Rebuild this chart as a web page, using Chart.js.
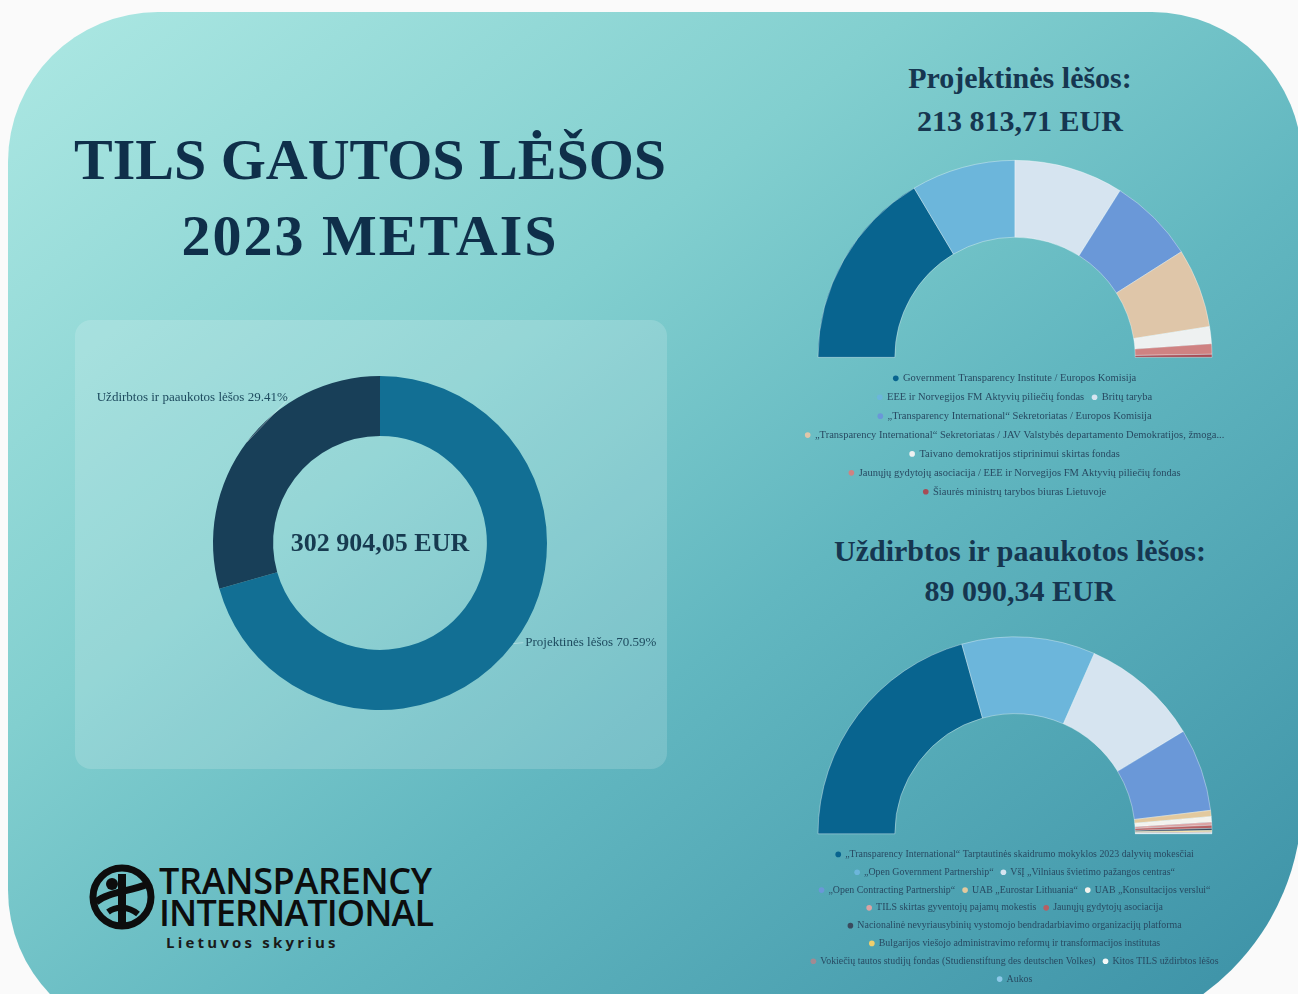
<!DOCTYPE html>
<html lang="lt">
<head>
<meta charset="utf-8">
<title>TILS gautos lėšos 2023 metais</title>
<script src="https://cdn.jsdelivr.net/npm/chart.js@4.4.1/dist/chart.umd.min.js"></script>
<style>
  html, body { margin: 0; padding: 0; }
  body { width: 1298px; height: 994px; overflow: hidden; background: #fafafa; position: relative; font-family: "Liberation Serif", serif; }
  .card {
    position: absolute; left: 8px; top: 12px; width: 1294px; height: 1028px;
    border-radius: 150px 150px 240px 150px;
    background: linear-gradient(to bottom right, #ade8e3 0%, #82cfcf 35%, #62b7c0 58%, #3a8fa5 100%);
  }
  .panel {
    position: absolute; left: 75px; top: 320px; width: 592px; height: 449px;
    border-radius: 16px; background: rgba(255, 255, 255, 0.16);
  }
  .title {
    position: absolute; left: 20px; top: 122px; width: 700px; text-align: center;
    font: bold 58px/76px "Liberation Serif", serif; color: #0f2f4a;
  }
  .head {
    position: absolute; left: 820px; width: 400px; text-align: center;
    font: bold 30px/43px "Liberation Serif", serif; color: #163650;
  }
  .box { position: absolute; }
  .logo { position: absolute; left: 88px; top: 862px; }
  .logo-text {
    position: absolute; left: 159px; top: 865px;
    font: 600 36px/32px "Open Sans", sans-serif; color: #0d0d0d; letter-spacing: -0.3px;
  }
  .logo-sub {
    position: absolute; left: 166px; top: 933px;
    font: bold 15px/18px "Open Sans", sans-serif; color: #1a1a1a; letter-spacing: 3.2px;
  }
</style>
</head>
<body>
<div class="card"></div>
<div class="panel"></div>
<div class="title">TILS GAUTOS LĖŠOS<br><span style="letter-spacing:2px">2023 METAIS</span></div>
<div class="head" id="headTop" style="top:56px"></div>
<div class="head" id="headBottom" style="top:531px; line-height:40px"></div>

<div class="box" style="left:75px; top:318px; width:610px; height:450px"><canvas id="mainChart"></canvas></div>
<div class="box" style="left:790px; top:153px; width:450px; height:354px"><canvas id="projectChart"></canvas></div>
<div class="box" style="left:790px; top:629px; width:450px; height:365px"><canvas id="earnedChart"></canvas></div>

<svg class="logo" width="72" height="72" viewBox="0 0 72 72">
  <circle cx="34" cy="35" r="29" fill="none" stroke="#0d0d0d" stroke-width="7"/>
  <circle cx="24" cy="22" r="6" fill="#0d0d0d"/>
  <path d="M8 40 C20 30, 40 30, 60 22" fill="none" stroke="#0d0d0d" stroke-width="7"/>
  <path d="M34 12 L34 62" fill="none" stroke="#0d0d0d" stroke-width="8"/>
  <path d="M20 50 C28 44, 40 44, 50 52" fill="none" stroke="#0d0d0d" stroke-width="6"/>
</svg>
<div class="logo-text">TRANSPARENCY<br><span style="letter-spacing:-0.9px">INTERNATIONAL</span></div>
<div class="logo-sub">Lietuvos skyrius</div>

<script>
// pagrindinis padalijimas
const mainLabels = ["Projektinės lėšos", "Uždirbtos ir paaukotos lėšos"];
const mainValues = [213813.71, 89090.34];
const mainColors = ["#126f94", "#183f58"];

// projektinės lėšos pagal šaltinį (EUR, įvertinta iš paveikslo)
const projectLabels = [
  "Government Transparency Institute / Europos Komisija",
  "EEE ir Norvegijos FM Aktyvių piliečių fondas",
  "Britų taryba",
  "„Transparency International“ Sekretoriatas / Europos Komisija",
  "„Transparency International“ Sekretoriatas / JAV Valstybės departamento Demokratijos, žmoga...",
  "Taivano demokratijos stiprinimui skirtas fondas",
  "Jaunųjų gydytojų asociacija / EEE ir Norvegijos FM Aktyvių piliečių fondas",
  "Šiaurės ministrų tarybos biuras Lietuvoje"
];
const projectValues = [70345, 36562, 38273, 30148, 27796, 5987, 3635, 1068];
const projectColors = ["#08648f", "#6cb6db", "#d6e4f0", "#6a98d8", "#dfc6a9", "#eef1f1", "#cf8282", "#a84c56"];

// uždirbtos ir paaukotos lėšos
const earnedLabels = [
  "„Transparency International“ Tarptautinės skaidrumo mokyklos 2023 dalyvių mokesčiai",
  "„Open Government Partnership“",
  "VšĮ „Vilniaus švietimo pažangos centras“",
  "„Open Contracting Partnership“",
  "UAB „Eurostar Lithuania“",
  "UAB „Konsultacijos verslui“",
  "TILS skirtas gyventojų pajamų mokestis",
  "Jaunųjų gydytojų asociacija",
  "Nacionalinė nevyriausybinių vystomojo bendradarbiavimo organizacijų platforma",
  "Bulgarijos viešojo administravimo reformų ir transformacijos institutas",
  "Vokiečių tautos studijų fondas (Studienstiftung des deutschen Volkes)",
  "Kitos TILS uždirbtos lėšos",
  "Aukos"
];
const earnedValues = [36794, 19511, 17284, 12116, 900, 800, 450, 450, 300, 180, 150, 90, 65.34];
const earnedColors = ["#08648f", "#6cb6db", "#d6e4f0", "#6a98d8", "#e2c99e", "#f3f3ee", "#dba3a3",
  "#b75f62", "#3a4b5e", "#f0cf6c", "#a28a92", "#f4f8f8", "#8cc8e8"];

function eur(v) {
  const parts = v.toFixed(2).split(".");
  return parts[0].replace(/\B(?=(\d{3})+(?!\d))/g, " ") + "," + parts[1] + " EUR";
}

const mainTotal = mainValues[0] + mainValues[1];
document.getElementById("headTop").innerHTML = "Projektinės lėšos:<br>" + eur(mainValues[0]);
document.getElementById("headBottom").innerHTML = "Uždirbtos ir paaukotos lėšos:<br>" + eur(mainValues[1]);

Chart.defaults.font.family = "'Liberation Serif', serif";
Chart.defaults.animation = false;

const centerText = {
  id: "centerText",
  afterDatasetsDraw(chart) {
    const arc = chart.getDatasetMeta(0).data[0];
    const ctx = chart.ctx;
    ctx.save();
    ctx.font = "bold 26px 'Liberation Serif', serif";
    ctx.fillStyle = "#173a50";
    ctx.textAlign = "center";
    ctx.textBaseline = "middle";
    ctx.fillText(eur(mainTotal), arc.x, arc.y + 1);

    // išoriniai užrašai
    ctx.font = "13px 'Liberation Serif', serif";
    ctx.fillStyle = "#1d4a5e";
    ctx.strokeStyle = "rgba(255,255,255,0.35)";
    ctx.lineWidth = 1;
    const shifts = [[12, -1], [41, -45]];
    chart.getDatasetMeta(0).data.forEach((el, i) => {
      const mid = (el.startAngle + el.endAngle) / 2;
      const px = el.x + Math.cos(mid) * el.outerRadius;
      const py = el.y + Math.sin(mid) * el.outerRadius;
      const tx = px + shifts[i][0];
      const ty = py + shifts[i][1];
      ctx.beginPath();
      ctx.moveTo(px, py);
      ctx.lineTo(tx + (i === 0 ? -2 : 2), ty);
      ctx.stroke();
      const pct = (mainValues[i] / mainTotal * 100).toFixed(2) + "%";
      ctx.textAlign = i === 0 ? "left" : "right";
      ctx.fillText(mainLabels[i] + " " + pct, tx, ty);
    });
    ctx.restore();
  }
};

new Chart(document.getElementById("mainChart"), {
  type: "doughnut",
  data: {
    labels: mainLabels,
    datasets: [{ data: mainValues, backgroundColor: mainColors, borderWidth: 0 }]
  },
  options: {
    responsive: true,
    maintainAspectRatio: false,
    radius: 167,
    cutout: "64%",
    plugins: { legend: { display: false }, tooltip: { enabled: false } }
  },
  plugins: [centerText]
});

const baseLabels = Chart.overrides.doughnut.plugins.legend.labels.generateLabels;

function halfDonut(id, labels, values, colors, fontSize, pad) {
  return new Chart(document.getElementById(id), {
    type: "doughnut",
    data: {
      labels: labels,
      datasets: [{
        data: values,
        backgroundColor: colors,
        borderColor: "rgba(255,255,255,0.35)",
        borderWidth: 1
      }]
    },
    options: {
      responsive: true,
      maintainAspectRatio: false,
      rotation: -90,
      circumference: 180,
      radius: 197,
      cutout: "61%",
      layout: { padding: 0 },
      plugins: {
        tooltip: { enabled: false },
        legend: {
          position: "bottom",
          labels: {
            usePointStyle: true,
            pointStyle: "circle",
            boxWidth: 4,
            boxHeight: 4,
            padding: pad,
            color: "#284a62",
            font: { size: fontSize },
            generateLabels(chart) {
              return baseLabels(chart).map(item => Object.assign(item, { lineWidth: 0, strokeStyle: item.fillStyle }));
            }
          }
        }
      }
    }
  });
}

halfDonut("projectChart", projectLabels, projectValues, projectColors, 10.5, 8.4);
halfDonut("earnedChart", earnedLabels, earnedValues, earnedColors, 9.9, 7.9);
</script>
</body>
</html>
